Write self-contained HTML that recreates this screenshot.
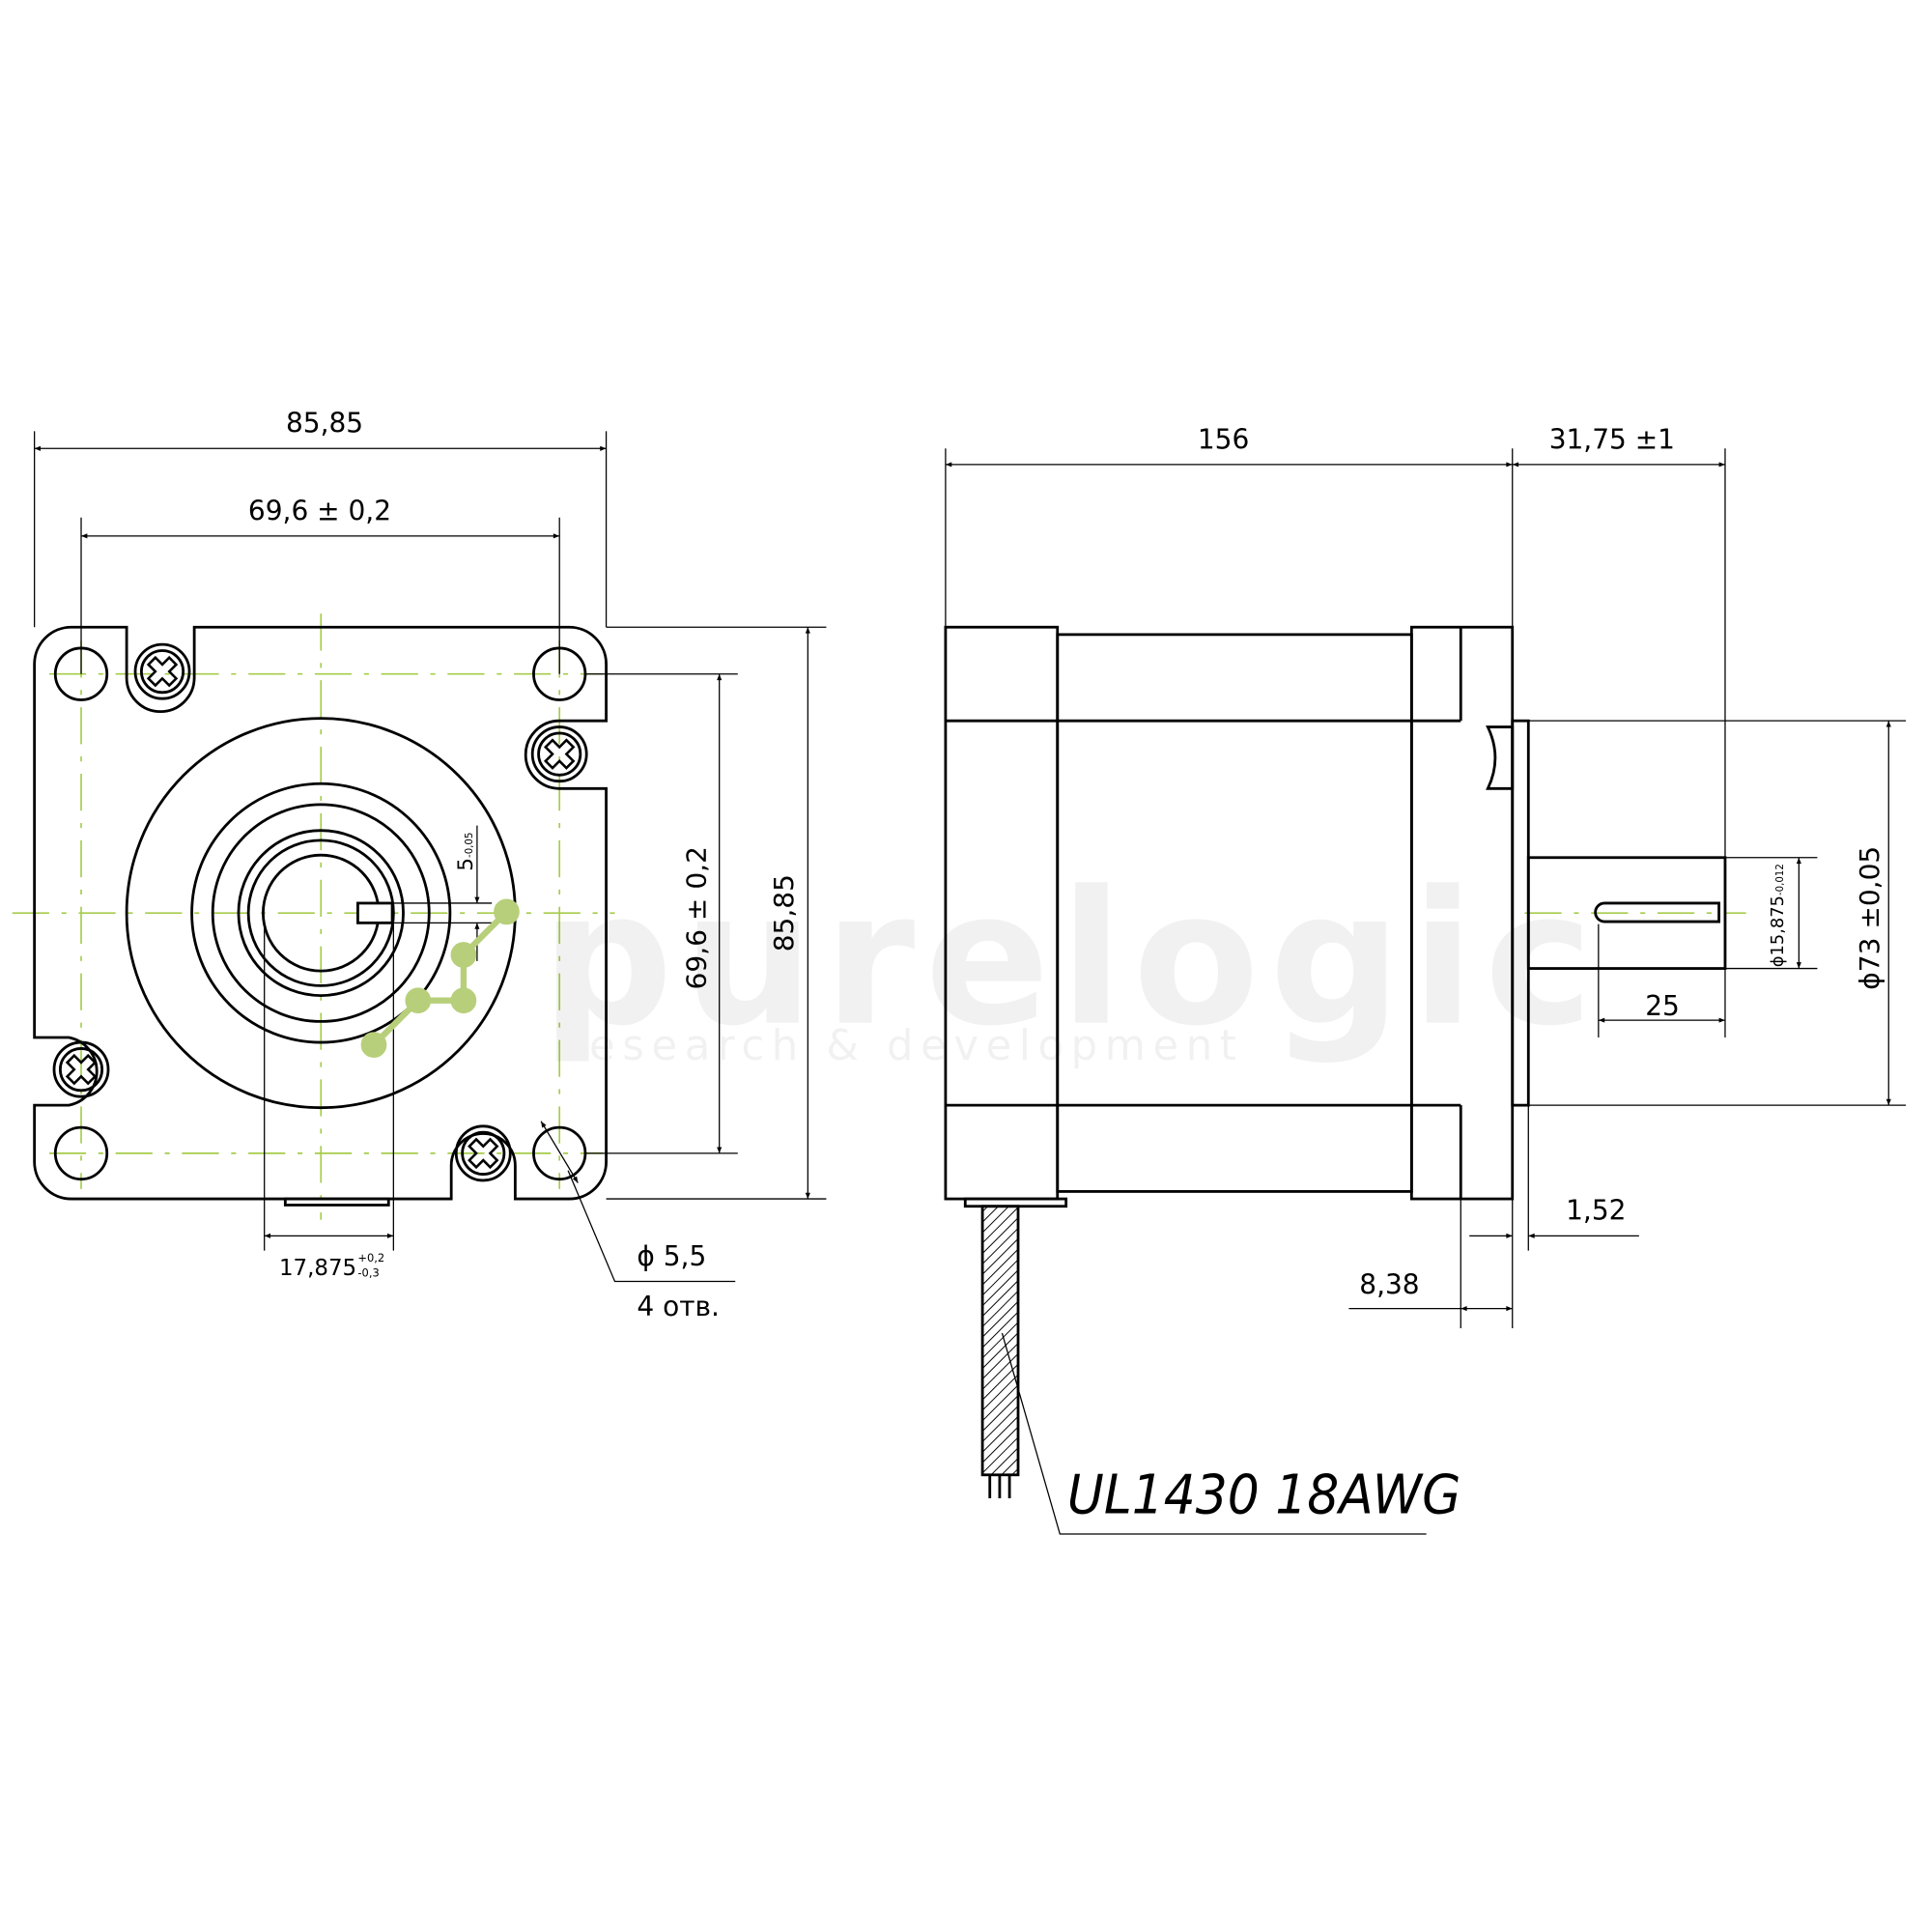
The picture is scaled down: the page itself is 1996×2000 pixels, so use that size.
<!DOCTYPE html>
<html><head><meta charset="utf-8"><style>
html,body{margin:0;padding:0;background:#fff;}
svg{display:block;}
text{font-family:"DejaVu Sans","Liberation Sans",sans-serif;fill:#000;}
</style></head><body>
<svg width="1996" height="2000" viewBox="0 0 1568 1568" preserveAspectRatio="none" xmlns="http://www.w3.org/2000/svg">
<defs>
<marker id="a" viewBox="0 0 10 10" refX="10" refY="5" markerWidth="14" markerHeight="5" orient="auto-start-reverse" markerUnits="userSpaceOnUse"><path d="M0,1 L10,5 L0,9z" fill="#000"/></marker>
<pattern id="h" width="6" height="6" patternUnits="userSpaceOnUse" patternTransform="rotate(45)"><line x1="0" y1="0" x2="0" y2="6" stroke="#000" stroke-width="1.5"/></pattern>
</defs>
<rect width="1568" height="1568" fill="#fff"/>
<g stroke="#a6cc4a" stroke-width="1.3" stroke-dasharray="30,10,4,10" fill="none">
<line x1="10" y1="741" x2="500" y2="741"/>
<line x1="261" y1="498" x2="261" y2="990"/>
<line x1="40" y1="547" x2="490" y2="547"/>
<line x1="40" y1="936" x2="490" y2="936"/>
<line x1="66" y1="520" x2="66" y2="965"/>
<line x1="455" y1="520" x2="455" y2="965"/>
<line x1="1240" y1="741" x2="1420" y2="741"/>
</g>
<g stroke="#000" stroke-width="2.2" fill="none">
<path d="M58,509 H103 V550 A27,27 0 0 0 158,550 V509 H463 A30,30 0 0 1 493,539 V585 H455 A27,27 0 0 0 455,640 H493 V943 A30,30 0 0 1 463,973 H419 V946 A26,26 0 0 0 367,946 V973 H58 A30,30 0 0 1 28,943 V897 H56 A28,28 0 0 0 56,842 H28 V539 A30,30 0 0 1 58,509Z"/>
<circle cx="66" cy="547" r="21"/><circle cx="455" cy="547" r="21"/>
<circle cx="66" cy="936" r="21"/><circle cx="455" cy="936" r="21"/>
<circle cx="132" cy="545" r="22"/><circle cx="132" cy="545" r="17"/>
<circle cx="455" cy="612" r="22"/><circle cx="455" cy="612" r="17"/>
<circle cx="66" cy="868" r="22"/><circle cx="66" cy="868" r="17"/>
<circle cx="393" cy="936" r="22"/><circle cx="393" cy="936" r="17"/>
<circle cx="261" cy="741" r="158"/>
<circle cx="261" cy="741" r="105"/>
<circle cx="261" cy="741" r="88"/>
<circle cx="261" cy="741" r="67"/>
<circle cx="261" cy="741" r="59"/>
<circle cx="261" cy="741" r="47"/>
<rect x="291" y="733" width="28" height="16" fill="#fff"/>
<rect x="232" y="973" width="84" height="5"/>
<rect x="769" y="509" width="91" height="464"/>
<rect x="860" y="515" width="288" height="452"/>
<rect x="1148" y="509" width="82" height="464"/>
<line x1="769" y1="585" x2="1188" y2="585"/>
<line x1="769" y1="897" x2="1188" y2="897"/>
<line x1="1188" y1="509" x2="1188" y2="585"/>
<line x1="1188" y1="897" x2="1188" y2="973"/>
<rect x="1230" y="585" width="13" height="312"/>
<path d="M1210,590 H1230 V640 H1210 Q1222,615 1210,590Z"/>
<rect x="1243" y="696" width="160" height="90"/>
<path d="M1305,733 H1398 V748 H1305 A7.5,7.5 0 0 1 1305,733Z"/>
<rect x="785" y="973" width="82" height="6"/>
<rect x="799" y="979" width="29" height="218" fill="url(#h)"/>
<line x1="805" y1="1197" x2="805" y2="1216"/><line x1="813" y1="1197" x2="813" y2="1216"/><line x1="821" y1="1197" x2="821" y2="1216"/>
</g>
<g fill="none" stroke="#000" stroke-width="2">
<path d="M-4,-12 H4 V-4 H12 V4 H4 V12 H-4 V4 H-12 V-4 H-4Z" transform="translate(132,545) rotate(45)"/>
<path d="M-4,-12 H4 V-4 H12 V4 H4 V12 H-4 V4 H-12 V-4 H-4Z" transform="translate(455,612) rotate(45)"/>
<path d="M-4,-12 H4 V-4 H12 V4 H4 V12 H-4 V4 H-12 V-4 H-4Z" transform="translate(66,868) rotate(45)"/>
<path d="M-4,-12 H4 V-4 H12 V4 H4 V12 H-4 V4 H-12 V-4 H-4Z" transform="translate(393,936) rotate(45)"/>
</g>
<g stroke="#000" stroke-width="1" fill="none">
<line x1="28" y1="350" x2="28" y2="509"/><line x1="493" y1="350" x2="493" y2="509"/>
<line x1="66" y1="420" x2="66" y2="547"/><line x1="455" y1="420" x2="455" y2="547"/>
<line x1="28" y1="364" x2="493" y2="364" marker-start="url(#a)" marker-end="url(#a)"/>
<line x1="66" y1="435" x2="455" y2="435" marker-start="url(#a)" marker-end="url(#a)"/>
<line x1="493" y1="509" x2="672" y2="509"/><line x1="493" y1="973" x2="672" y2="973"/>
<line x1="657" y1="509" x2="657" y2="973" marker-start="url(#a)" marker-end="url(#a)"/>
<line x1="476" y1="547" x2="600" y2="547"/><line x1="476" y1="936" x2="600" y2="936"/>
<line x1="585" y1="547" x2="585" y2="936" marker-start="url(#a)" marker-end="url(#a)"/>
<line x1="215" y1="750" x2="215" y2="1015"/><line x1="320" y1="749" x2="320" y2="1015"/>
<line x1="215" y1="1003" x2="320" y2="1003" marker-start="url(#a)" marker-end="url(#a)"/>
<line x1="319" y1="733" x2="400" y2="733"/><line x1="319" y1="749" x2="400" y2="749"/>
<line x1="388" y1="670" x2="388" y2="733" marker-end="url(#a)"/>
<line x1="388" y1="780" x2="388" y2="749" marker-end="url(#a)"/>
<line x1="440" y1="910" x2="470" y2="960" marker-start="url(#a)" marker-end="url(#a)"/>
<polyline points="462,950 500,1040 598,1040"/>
<line x1="769" y1="364" x2="769" y2="509"/><line x1="1230" y1="364" x2="1230" y2="509"/><line x1="1403" y1="364" x2="1403" y2="696"/>
<line x1="769" y1="377" x2="1230" y2="377" marker-start="url(#a)" marker-end="url(#a)"/>
<line x1="1230" y1="377" x2="1403" y2="377" marker-start="url(#a)" marker-end="url(#a)"/>
<line x1="1243" y1="585" x2="1550" y2="585"/><line x1="1243" y1="897" x2="1550" y2="897"/>
<line x1="1536" y1="585" x2="1536" y2="897" marker-start="url(#a)" marker-end="url(#a)"/>
<line x1="1403" y1="696" x2="1478" y2="696"/><line x1="1403" y1="786" x2="1478" y2="786"/>
<line x1="1463" y1="696" x2="1463" y2="786" marker-start="url(#a)" marker-end="url(#a)"/>
<line x1="1300" y1="750" x2="1300" y2="842"/><line x1="1403" y1="786" x2="1403" y2="842"/>
<line x1="1300" y1="828" x2="1403" y2="828" marker-start="url(#a)" marker-end="url(#a)"/>
<line x1="1230" y1="973" x2="1230" y2="1078"/><line x1="1243" y1="897" x2="1243" y2="1015"/><line x1="1188" y1="973" x2="1188" y2="1078"/>
<line x1="1195" y1="1003" x2="1230" y2="1003" marker-end="url(#a)"/>
<line x1="1333" y1="1003" x2="1243" y2="1003" marker-end="url(#a)"/>
<line x1="1097" y1="1062" x2="1188" y2="1062"/>
<line x1="1188" y1="1062" x2="1230" y2="1062" marker-start="url(#a)" marker-end="url(#a)"/>
<polyline points="815,1082 862,1245 1160,1245"/>
</g>
<g font-size="22">
<text x="264" y="351" text-anchor="middle">85,85</text>
<text x="260" y="422" text-anchor="middle">69,6 ± 0,2</text>
<text x="995" y="364" text-anchor="middle">156</text>
<text x="1311" y="364" text-anchor="middle">31,75 ±1</text>
<text x="1352" y="824" text-anchor="middle">25</text>
<text x="1298" y="990" text-anchor="middle">1,52</text>
<text x="1130" y="1050" text-anchor="middle">8,38</text>
<text x="518" y="1027">ϕ 5,5</text>
<text x="518" y="1068">4  отв.</text>
<text x="227" y="1035" font-size="18">17,875</text>
<text x="291" y="1024" font-size="9">+0,2</text>
<text x="291" y="1036" font-size="9">-0,3</text>
<text transform="translate(645,741) rotate(-90)" text-anchor="middle">85,85</text>
<text transform="translate(574,745) rotate(-90)" text-anchor="middle">69,6 ± 0,2</text>
<text transform="translate(1528,745) rotate(-90)" text-anchor="middle">ϕ73 ±0,05</text>
<text transform="translate(1450,785) rotate(-90)" font-size="14">ϕ15,875<tspan font-size="8">-0,012</tspan></text>
<text transform="translate(384,707) rotate(-90)" font-size="17">5<tspan font-size="8">-0,05</tspan></text>
<text x="868" y="1228" font-size="44" font-style="italic" textLength="320" lengthAdjust="spacingAndGlyphs">UL1430  18AWG</text>
</g>
<g opacity="0.05">
<text x="440" y="830" font-size="150" font-weight="bold" fill="#999" letter-spacing="8">purelogic</text>
<text x="460" y="860" font-size="34" fill="#999" letter-spacing="6">research &amp; development</text>
</g>
<g stroke="#b7cf7a" stroke-width="5" fill="#b7cf7a">
<polyline points="304,848 340,812 377,812 377,775 412,740" fill="none"/>
<circle cx="304" cy="848" r="8"/><circle cx="340" cy="812" r="8"/><circle cx="377" cy="812" r="8"/><circle cx="377" cy="775" r="8"/><circle cx="412" cy="740" r="8"/>
</g>
</svg>
</body></html>
